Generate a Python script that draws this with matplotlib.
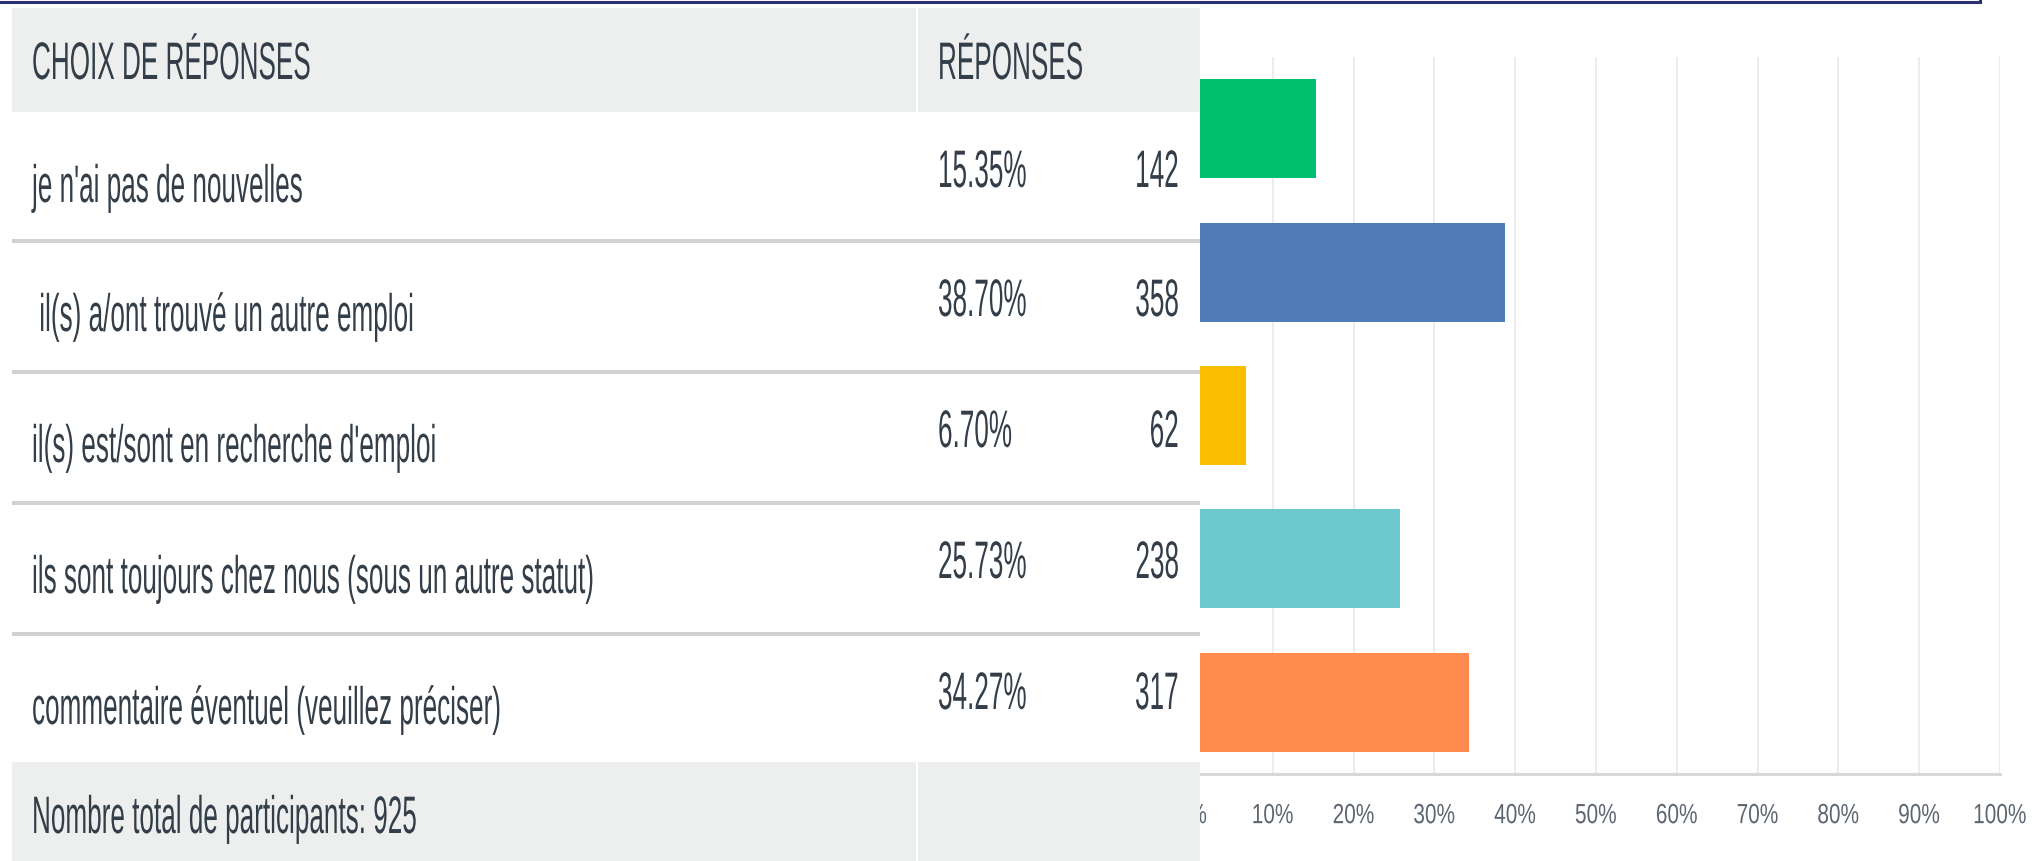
import matplotlib
matplotlib.use("Agg")
import matplotlib.pyplot as plt
import numpy as np
from matplotlib.patheffects import AbstractPathEffect
from matplotlib.transforms import Affine2D
from matplotlib.patches import Rectangle

# survey data
choices = [
    "je n'ai pas de nouvelles",
    " il(s) a/ont trouvé un autre emploi",
    "il(s) est/sont en recherche d'emploi",
    "ils sont toujours chez nous (sous un autre statut)",
    "commentaire éventuel (veuillez préciser)",
]
percents = [15.35, 38.70, 6.70, 25.73, 34.27]
counts = [142, 358, 62, 238, 317]
total = 925
bar_colors = ["#00bf6f", "#507cb6", "#f9be00", "#6bc8cd", "#ff8b4f"]
ticks = list(range(0, 101, 10))
tick_labels = [f"{t}%" for t in ticks]

TEXT = "#333e48"
W, H = 2043, 862


class Squeeze(AbstractPathEffect):
    """draw text narrower in x, like the squashed screenshot"""

    def __init__(self, sx, anchor="left"):
        super().__init__()
        self.sx = sx
        self.anchor = anchor

    def draw_path(self, renderer, gc, tpath, affine, rgbFace=None):
        xs = tpath.vertices[:, 0]
        px = 0
        if len(xs):
            if self.anchor == "right":
                px = xs.max()
            elif self.anchor == "center":
                px = (xs.min() + xs.max()) / 2
        sq = Affine2D().translate(-px, 0).scale(self.sx, 1).translate(px, 0)
        renderer.draw_path(gc, tpath, sq + affine, rgbFace)


fig = plt.figure(figsize=(W / 100, H / 100), dpi=100)
fig.patch.set_facecolor("white")

# bar chart (pixel box: x 1192..2000, y 58..775)
ax = fig.add_axes([1192 / W, (H - 775) / H, (2000 - 1192) / W, (775 - 58) / H])
y = np.arange(len(percents))
ax.barh(y, percents, height=0.69, color=bar_colors, zorder=2)
ax.set_xlim(0, 100)
ax.set_ylim(len(percents) - 0.5, -0.5)
ax.set_xticks(ticks)
ax.set_xticklabels(tick_labels)
ax.set_yticks([])
ax.grid(axis="x", color="#ececec", linewidth=1.4, zorder=0)
for s in ["top", "left", "right"]:
    ax.spines[s].set_visible(False)
ax.spines["bottom"].set_color("#d8d8d8")
ax.spines["bottom"].set_linewidth(2.2)
ax.tick_params(axis="x", length=0, pad=21, labelsize=20, labelcolor="#5d6670")
for t in ax.get_xticklabels():
    t.set_fontfamily("Liberation Sans")
    t.set_path_effects([Squeeze(0.75, "center")])

# table overlay in pixel coordinates
tb = fig.add_axes([0, 0, 1, 1])
tb.set_zorder(3)
tb.patch.set_alpha(0)
tb.set_xlim(0, W)
tb.set_ylim(H, 0)
tb.axis("off")

x0, x1, xdiv = 12, 1200, 917
row_tops = [113, 242, 373, 504, 635]
gray = "#edeeee"

tb.add_patch(Rectangle((0, 0), x1, H, color="white", lw=0))
tb.add_patch(Rectangle((x0, 9), x1 - x0, 113 - 9, color=gray, lw=0))
tb.add_patch(Rectangle((x0, 763), x1 - x0, H - 763, color=gray, lw=0))
tb.plot([xdiv, xdiv], [9, 113], color="white", lw=1.5)
tb.plot([xdiv, xdiv], [763, H], color="white", lw=1.5)
for top in row_tops[1:]:
    tb.add_patch(Rectangle((x0, top - 2), x1 - x0, 4, color="#d0d1d3", lw=0))

# navy frame edge at the very top
tb.plot([0, 1980, 1980], [3, 3, 0], color="#2b2f73", lw=2.2, solid_joinstyle="miter")

fs = 38
sq = 0.495
txt = dict(fontsize=fs, color=TEXT, family="Liberation Sans", va="baseline")

tb.text(32, 80, "CHOIX DE RÉPONSES", path_effects=[Squeeze(sq)], **txt)
tb.text(938, 80, "RÉPONSES", path_effects=[Squeeze(sq)], **txt)
for top, label, p, c in zip(row_tops, choices, percents, counts):
    tb.text(32, top + 90, label, path_effects=[Squeeze(sq)], **txt)
    tb.text(938, top + 75, f"{p:.2f}%", path_effects=[Squeeze(sq)], **txt)
    tb.text(1180, top + 75, str(c), ha="right", path_effects=[Squeeze(sq, "right")], **txt)
tb.text(32, 834, f"Nombre total de participants: {total}", path_effects=[Squeeze(sq)], **txt)

fig.savefig("out.png", dpi=100)
